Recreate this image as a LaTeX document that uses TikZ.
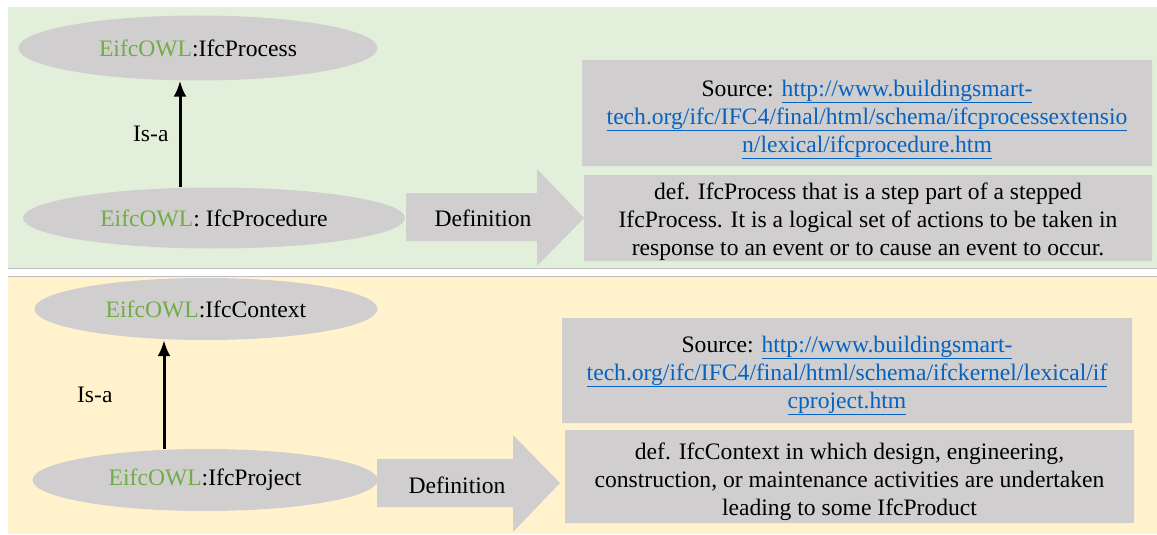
\documentclass[tikz,border=0pt]{standalone}
\usepackage{fontspec}
\setmainfont{Liberation Serif}
\usepackage{xcolor}
\usepackage{tikz}
\usetikzlibrary{arrows.meta,shapes.geometric}

\definecolor{bggreen}{HTML}{E2EFDA}
\definecolor{bgyellow}{HTML}{FFF2CC}
\definecolor{boxgrey}{HTML}{D0CECE}
\definecolor{rulegrey}{HTML}{BFBFBF}
\definecolor{owlgreen}{HTML}{70AD47}
\definecolor{linkblue}{HTML}{0563C1}
\newcommand{\owl}{\textcolor{owlgreen}{EifcOWL}}
\newcommand{\lnk}[1]{\textcolor{linkblue}{\underline{#1}}}

\begin{document}
\begin{tikzpicture}[x=1pt,y=-1pt,
    every node/.style={font=\fontsize{23.6}{28}\selectfont},
    cls/.style={ellipse,fill=boxgrey,inner sep=0pt},
    txt/.style={inner sep=0pt,align=center},
    isa/.style={-{Latex[length=16pt,width=13pt]},line width=3pt}]
  \useasboundingbox (0,0) rectangle (1157,535);
  \fill[bggreen] (8,7) rectangle (1157,268);
  \fill[bgyellow] (8,276) rectangle (1157,534);
  \draw[rulegrey] (8,268) -- (1157,268) (8,276) -- (1157,276);

  % IfcProcedure
  \node[cls,minimum width=359pt,minimum height=65pt] (c1) at (198,48) {\owl:IfcProcess};
  \node[cls,minimum width=382pt,minimum height=61pt] (c2) at (214,218) {\owl: IfcProcedure};
  \fill[boxgrey] (406,193) -- (537,193) -- (537,169) -- (584,218) -- (537,266) -- (537,241) -- (406,241) -- cycle;
  \node (d1) at (483,218) {Definition};
  \fill[boxgrey] (582,60) rectangle (1152,166) (584,175) rectangle (1152,261);
  \node[txt] (s1) at (867,119.5)
    {Source: \lnk{http://www.buildingsmart-}\\
     \lnk{tech.org/ifc/IFC4/final/html/schema/ifcprocessextensio}\\
     \lnk{n/lexical/ifcprocedure.htm}};
  \node[txt] (f1) at (868,222)
    {def. IfcProcess that is a step part of a stepped\\
     IfcProcess. It is a logical set of actions to be taken in\\
     response to an event or to cause an event to occur.};
  \path[isa] ([xshift=-34pt]c2.north) edge node[left=10pt,inner sep=0pt] {Is-a} ([xshift=-18pt]c1.south);

  % IfcProject
  \node[cls,minimum width=343pt,minimum height=62pt] (c3) at (206,309) {\owl:IfcContext};
  \node[cls,minimum width=345pt,minimum height=62pt] (c4) at (205,480) {\owl:IfcProject};
  \fill[boxgrey] (377,459) -- (513,459) -- (513,435) -- (560,483) -- (513,532) -- (513,507) -- (377,507) -- cycle;
  \node (d2) at (457,485) {Definition};
  \fill[boxgrey] (562,318) rectangle (1132,423) (565,430) rectangle (1134,523);
  \node[txt] (s2) at (847,375.5)
    {Source: \lnk{http://www.buildingsmart-}\\
     \lnk{tech.org/ifc/IFC4/final/html/schema/ifckernel/lexical/if}\\
     \lnk{cproject.htm}};
  \node[txt] (f2) at (849.5,481.5)
    {def. IfcContext in which design, engineering,\\
     construction, or maintenance activities are undertaken\\
     leading to some IfcProduct};
  \path[isa] ([xshift=-41pt]c4.north) edge node[left=50pt,inner sep=0pt] {Is-a} ([xshift=-42pt]c3.south);
\end{tikzpicture}
\end{document}
